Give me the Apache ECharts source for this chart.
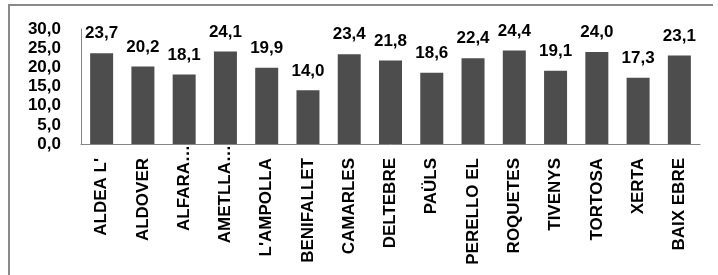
<!DOCTYPE html>
<html>
<head>
<meta charset="utf-8">
<script src="https://cdn.jsdelivr.net/npm/echarts@6/dist/echarts.min.js"></script>
<style>
	html, body { margin: 0; padding: 0; background: #fff; }
	#chart { width: 718px; height: 275px; }
</style>
</head>
<body>
<div id="chart"></div>
<script>
// comarques / municipis
var categories = ["ALDEA L'", "ALDOVER", "ALFARA…", "AMETLLA…", "L'AMPOLLA", "BENIFALLET", "CAMARLES",
	"DELTEBRE", "PAÜLS", "PERELLO EL", "ROQUETES", "TIVENYS", "TORTOSA", "XERTA", "BAIX EBRE"];
var values = [23.7, 20.2, 18.1, 24.1, 19.9, 14.0, 23.4, 21.8, 18.6, 22.4, 24.4, 19.1, 24.0, 17.3, 23.1];
var yTicks = [0, 5, 10, 15, 20, 25, 30];

var font = "Liberation Sans";

//format amb coma decimal
function fmt(v) {
	return v.toFixed(1).replace(".", ",");
}

var myChart = echarts.init(document.getElementById("chart"));
myChart.setOption({
	animation: false,
	grid: { left: 81, right: 18, top: 29, bottom: 131 },
	graphic: [{
		type: 'polyline',
		shape: { points: [[9, 280], [9, 5], [713, 5]] },
		style: { stroke: '#8a8a8a', lineWidth: 2, fill: null }
	}],
	xAxis: {
		type: 'category',
		data: categories,
		axisLine: { lineStyle: { color: '#858585', width: 1 } },
		axisTick: { show: false },
		axisLabel: {
			rotate: 90,
			margin: 1,
			interval: 0,
			formatter: function (name) {
				// els truncats arriben fins a l'eix
				if (name.indexOf("…") >= 0) return "{t|" + name + "}";
				return "{n|" + name + "}";
			},
			rich: {
				n: { fontFamily: font, fontWeight: 'bold', fontSize: 17, color: '#000', padding: [0, 13, 0, 0] },
				t: { fontFamily: font, fontWeight: 'bold', fontSize: 17, color: '#000' }
			}
		}
	},
	yAxis: {
		type: 'value',
		min: yTicks[0],
		max: yTicks[yTicks.length - 1],
		interval: 5,
		splitLine: { show: false },
		axisTick: { show: false },
		axisLine: { show: true, lineStyle: { color: '#858585', width: 1 } },
		axisLabel: {
			margin: 20,
			fontFamily: font,
			fontWeight: 'bold',
			fontSize: 17,
			color: '#000',
			formatter: function (v) { return fmt(v); }
		}
	},
	series: [{
		type: 'bar',
		data: values,
		barWidth: 23,
		itemStyle: { color: '#4d4d4d' },
		label: {
			show: true,
			position: 'top',
			distance: 11,
			fontFamily: font,
			fontWeight: 'bold',
			fontSize: 17,
			color: '#000',
			formatter: function (p) { return fmt(p.value); }
		}
	}]
});
</script>
</body>
</html>
